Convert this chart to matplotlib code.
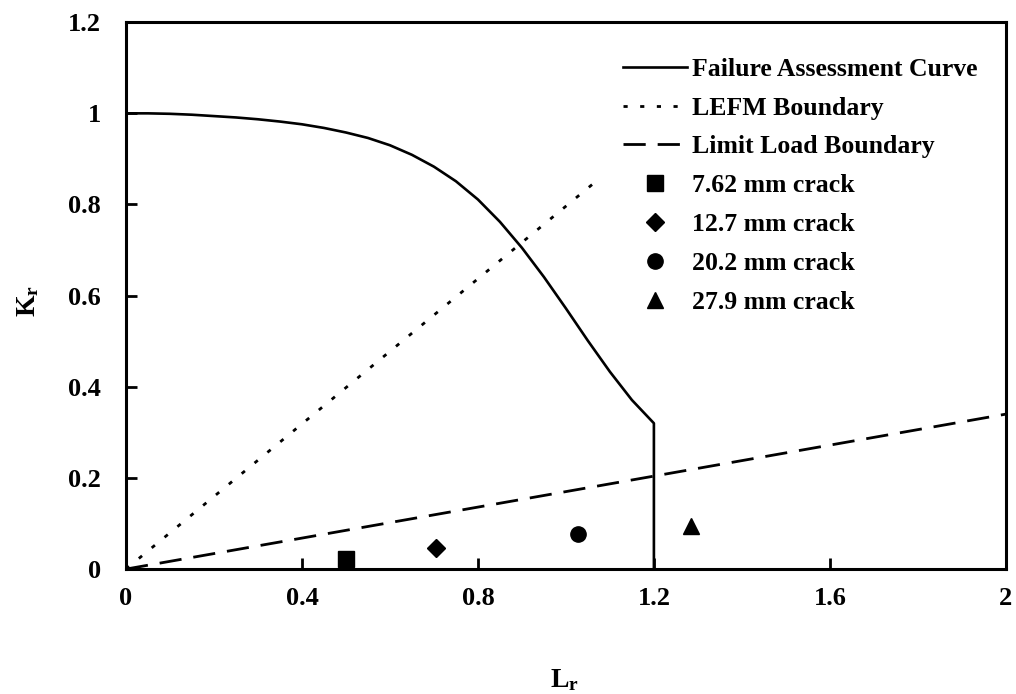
import matplotlib
matplotlib.use("Agg")
import matplotlib.pyplot as plt

# failure assessment curve (Lr, Kr), with the Lr,max cut-off at 1.2
fac_lr = [0.0, 0.05, 0.1, 0.15, 0.2, 0.25, 0.3, 0.35, 0.4, 0.45, 0.5, 0.55,
          0.6, 0.65, 0.7, 0.75, 0.8, 0.85, 0.9, 0.95, 1.0, 1.05, 1.1, 1.15,
          1.2, 1.2]
fac_kr = [1.0, 1.0, 0.999, 0.997, 0.994, 0.991, 0.987, 0.982, 0.976, 0.968,
          0.958, 0.946, 0.930, 0.909, 0.883, 0.851, 0.811, 0.762, 0.705,
          0.641, 0.572, 0.501, 0.433, 0.371, 0.32, 0.0]

lefm_lr = [0.0, 1.08]
lefm_kr = [0.0, 0.86]

limit_lr = [0.0, 2.0]
limit_kr = [0.0, 0.34]

crack_labels = ["7.62 mm crack", "12.7 mm crack", "20.2 mm crack", "27.9 mm crack"]
crack_lr = [0.50, 0.705, 1.027, 1.285]
crack_kr = [0.022, 0.046, 0.077, 0.095]
crack_markers = ["s", "D", "o", "^"]
crack_sizes = [11, 9, 11, 12]

x_ticks = [0, 0.4, 0.8, 1.2, 1.6, 2]
y_ticks = [0, 0.2, 0.4, 0.6, 0.8, 1, 1.2]

plt.rcParams["font.family"] = "Liberation Serif"
plt.rcParams["font.weight"] = "bold"
plt.rcParams["mathtext.fontset"] = "custom"
plt.rcParams["mathtext.rm"] = "Liberation Serif:bold"
plt.rcParams["mathtext.bf"] = "Liberation Serif:bold"
plt.rcParams["mathtext.it"] = "Liberation Serif:bold"

fig = plt.figure(figsize=(10.16, 6.94), dpi=100)
ax = fig.add_axes([0.124, 0.180, 0.866, 0.788])

ax.plot(fac_lr, fac_kr, color="black", lw=1.9, label="Failure Assessment Curve")
ax.plot(lefm_lr, lefm_kr, color="black", lw=2.0, linestyle=(0, (1.5, 4.5)),
        label="LEFM Boundary")
ax.plot(limit_lr, limit_kr, color="black", lw=2.0, linestyle=(0, (8.0, 4.3)),
        label="Limit Load Boundary")
for lab, x, y, m, s in zip(crack_labels, crack_lr, crack_kr, crack_markers, crack_sizes):
    ax.plot([x], [y], linestyle="none", marker=m, markersize=s, color="black", label=lab)

ax.set_xlim(0, 2)
ax.set_ylim(0, 1.2)
ax.set_xticks(x_ticks)
ax.set_yticks(y_ticks)
ax.set_xticklabels(["%g" % t for t in x_ticks])
ax.set_yticklabels(["%g" % t for t in y_ticks])
ax.tick_params(axis="x", direction="in", length=8, width=2, labelsize=19, pad=13)
ax.tick_params(axis="y", direction="in", length=8, width=2, labelsize=19, pad=18)
for sp in ax.spines.values():
    sp.set_linewidth(2.2)

ax.set_xlabel(r"$\mathrm{L_r}$", fontsize=20)
ax.set_ylabel(r"$\mathrm{K_r}$", fontsize=20)
ax.xaxis.set_label_coords(0.498, -0.18)
ax.yaxis.set_label_coords(-0.096, 0.49)

ax.legend(loc="upper left", bbox_to_anchor=(0.613, 0.917), bbox_transform=fig.transFigure,
          frameon=False, fontsize=18.5, handlelength=2.5, handletextpad=0.2,
          labelspacing=0.62, borderpad=0, borderaxespad=0, numpoints=1)

fig.savefig("out.png", dpi=100)
